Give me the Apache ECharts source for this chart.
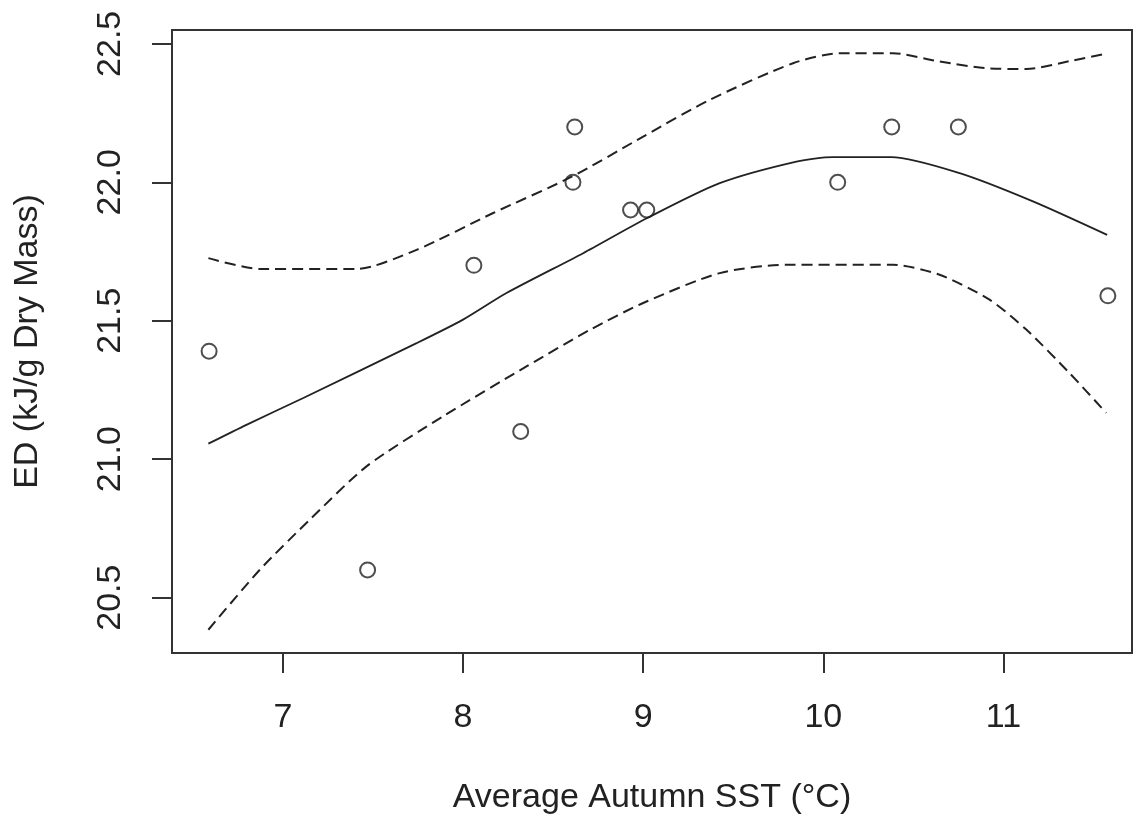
<!DOCTYPE html>
<html>
<head>
<meta charset="utf-8">
<script src="https://cdn.jsdelivr.net/npm/echarts@6/dist/echarts.min.js"></script>
<style>
html,body{margin:0;padding:0;background:#fff;}
#chart{width:1136px;height:823px;}
</style>
</head>
<body>
<div id="chart"></div>
<script>
// Observed points
const pointX = [6.59, 7.47, 8.06, 8.32, 8.62, 8.61, 8.93, 9.02, 10.08, 10.38, 10.75, 11.58];
const pointY = [21.39, 20.60, 21.70, 21.10, 22.20, 22.00, 21.90, 21.90, 22.00, 22.20, 22.20, 21.59];

// Fitted curve (solid)
const fitX = [6.586, 6.80, 7.113, 7.742, 8.0, 8.241, 8.667, 9.02, 9.425, 9.851, 10.054, 10.378, 10.757, 11.164, 11.576];
const fitY = [21.056, 21.125, 21.221, 21.419, 21.504, 21.60, 21.744, 21.87, 21.997, 22.075, 22.091, 22.091, 22.033, 21.931, 21.81];

// Upper confidence band (dashed)
const upperX = [6.586, 6.872, 7.409, 7.742, 8.167, 8.606, 9.0, 9.37, 9.832, 10.091, 10.387, 10.646, 10.905, 11.127, 11.386, 11.58];
const upperY = [21.726, 21.687, 21.687, 21.756, 21.889, 22.021, 22.165, 22.298, 22.43, 22.466, 22.466, 22.436, 22.412, 22.409, 22.44, 22.466];

// Lower confidence band (dashed)
const lowerX = [6.586, 6.872, 7.15, 7.464, 7.89, 8.352, 8.704, 9.0, 9.425, 9.795, 10.387, 10.646, 10.923, 11.127, 11.367, 11.571];
const lowerY = [20.384, 20.601, 20.782, 20.974, 21.155, 21.335, 21.467, 21.564, 21.672, 21.702, 21.702, 21.666, 21.576, 21.468, 21.311, 21.167];

// Tick labels
const xTicks = [7, 8, 9, 10, 11];
const yTicks = [20.5, 21.0, 21.5, 22.0, 22.5];

const xTitle = 'Average Autumn SST (°C)';
const yTitle = 'ED (kJ/g Dry Mass)';

const zip = (a, b) => a.map((v, i) => [v, b[i]]);

const FONT = 'Liberation Sans, Arial, sans-serif';
const INK = '#222';

const chart = echarts.init(document.getElementById('chart'), null, {renderer: 'canvas'});
chart.setOption({
  animation: false,
  backgroundColor: '#fff',
  grid: {
    left: 172, top: 30, right: 4, bottom: 170,
    show: true, borderColor: '#333', borderWidth: 2, backgroundColor: 'transparent'
  },
  xAxis: {
    type: 'value',
    min: 6.384, max: 11.714,
    splitLine: {show: false},
    axisLine: {show: false},
    axisTick: {show: true, length: 20, inside: false, customValues: xTicks, lineStyle: {color: '#333', width: 2}},
    axisLabel: {customValues: xTicks, margin: 48, fontSize: 34, fontFamily: FONT, color: INK},
    name: xTitle, nameLocation: 'middle', nameGap: 128,
    nameTextStyle: {fontSize: 34, fontFamily: FONT, color: INK}
  },
  yAxis: {
    type: 'value',
    min: 20.30, max: 22.55,
    splitLine: {show: false},
    axisLine: {show: false},
    axisTick: {show: true, length: 20, inside: false, customValues: yTicks, lineStyle: {color: '#333', width: 2}},
    axisLabel: {customValues: yTicks, rotate: 90, margin: 44, fontSize: 34, fontFamily: FONT, color: INK,
      formatter: v => Number(v).toFixed(1)},
    name: yTitle, nameLocation: 'middle', nameGap: 127, nameRotate: 90,
    nameTextStyle: {fontSize: 34, fontFamily: FONT, color: INK}
  },
  series: [
    {
      type: 'line', data: zip(fitX, fitY), symbol: 'none', smooth: 0.25,
      lineStyle: {color: INK, width: 1.8}, z: 2
    },
    {
      type: 'line', data: zip(upperX, upperY), symbol: 'none', smooth: 0.25,
      lineStyle: {color: INK, width: 2, type: [11, 6]}, z: 2
    },
    {
      type: 'line', data: zip(lowerX, lowerY), symbol: 'none', smooth: 0.25,
      lineStyle: {color: INK, width: 2, type: [11, 6]}, z: 2
    },
    {
      type: 'scatter', data: zip(pointX, pointY), symbol: 'circle', symbolSize: 15,
      itemStyle: {color: 'rgba(255,255,255,0)', borderColor: INK, borderWidth: 2}, z: 3
    }
  ]
});
</script>
</body>
</html>
